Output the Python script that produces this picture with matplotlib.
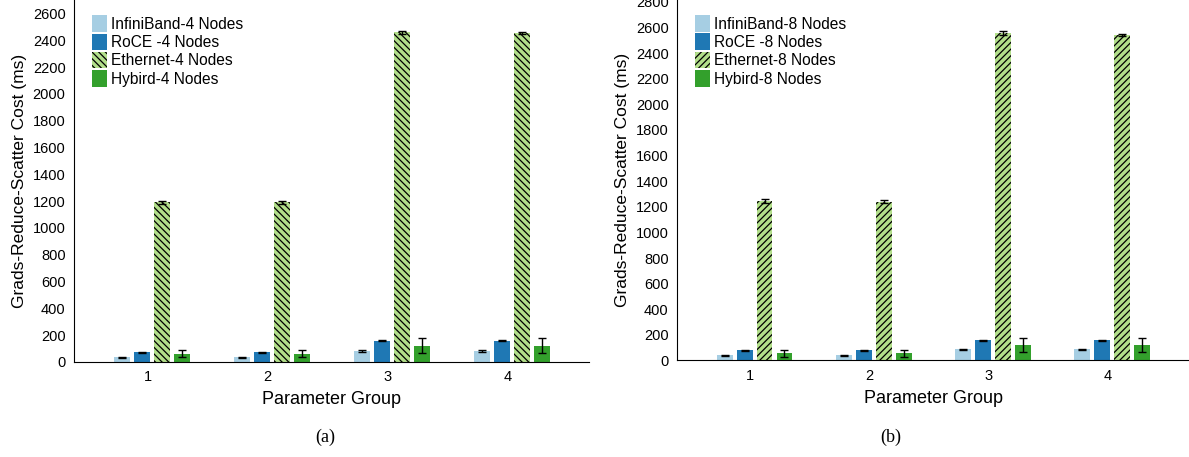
#!/usr/bin/env python3

import numpy as np
import matplotlib.pyplot as plt

plt.rcParams['font.family'] = ['Liberation Sans', 'DejaVu Sans']
plt.rcParams['hatch.linewidth'] = 0.9

groups = [1, 2, 3, 4]
colors = ['#a6cee3', '#1f78b4', '#b2df8a', '#33a02c']

# (a) 4 nodes
ib4 = [35, 35, 82, 82]
roce4 = [72, 72, 157, 157]
eth4 = [1190, 1190, 2460, 2455]
hyb4 = [60, 60, 120, 120]
ib4_err = [4, 4, 4, 4]
roce4_err = [4, 4, 4, 4]
eth4_err = [8, 8, 10, 10]
hyb4_err = [26, 26, 56, 56]

# (b) 8 nodes
ib8 = [41, 41, 88, 88]
roce8 = [80, 80, 159, 159]
eth8 = [1245, 1240, 2555, 2540]
hyb8 = [57, 57, 120, 120]
ib8_err = [4, 4, 4, 4]
roce8_err = [4, 4, 4, 4]
eth8_err = [15, 10, 15, 10]
hyb8_err = [27, 27, 56, 56]

labels4 = ['InfiniBand-4 Nodes', 'RoCE -4 Nodes', 'Ethernet-4 Nodes', 'Hybird-4 Nodes']
labels8 = ['InfiniBand-8 Nodes', 'RoCE -8 Nodes', 'Ethernet-8 Nodes', 'Hybird-8 Nodes']

offsets = [-0.214, -0.047, 0.12, 0.287]
width = 0.133


def draw(ax, data, errs, labels, hatch, ymax, yticks):
    x = np.array(groups)
    for i in range(4):
        ax.bar(x + offsets[i], data[i], width, color=colors[i], label=labels[i],
               yerr=errs[i], capsize=3, error_kw=dict(elinewidth=1, capthick=1, ecolor='black'),
               hatch=hatch if i == 2 else None, edgecolor='black' if i == 2 else colors[i],
               linewidth=0)
    ax.set_xlim(0.386, 4.68)
    ax.set_ylim(0, ymax)
    ax.set_yticks(yticks)
    ax.set_xticks(groups)
    ax.tick_params(length=0, labelsize=10.5, pad=6)
    ax.spines['top'].set_visible(False)
    ax.spines['right'].set_visible(False)
    ax.set_xlabel('Parameter Group', fontsize=13, labelpad=5)
    ax.set_ylabel('Grads-Reduce-Scatter Cost (ms)', fontsize=12.5, labelpad=4)
    ax.legend(loc='upper left', bbox_to_anchor=(0.022, 0.975), frameon=False, fontsize=11.2,
              handlelength=1.0, handleheight=1.25, handletextpad=0.25, labelspacing=0.12,
              borderaxespad=0)


fig = plt.figure(figsize=(11.89, 4.57), dpi=100)
ax1 = fig.add_axes([0.0622, 0.2079, 0.4331, 0.7921])
ax2 = fig.add_axes([0.5694, 0.2112, 0.4306, 0.789])

draw(ax1, [ib4, roce4, eth4, hyb4], [ib4_err, roce4_err, eth4_err, hyb4_err], labels4,
     '\\\\\\\\\\', 2700, np.arange(0, 2601, 200))
draw(ax2, [ib8, roce8, eth8, hyb8], [ib8_err, roce8_err, eth8_err, hyb8_err], labels8,
     '/////', 2815, np.arange(0, 2801, 200))

fig.text(0.2735, 0.042, '(a)', ha='center', va='center', fontsize=13, family='Liberation Serif')
fig.text(0.749, 0.042, '(b)', ha='center', va='center', fontsize=13, family='Liberation Serif')

fig.savefig('out.png', dpi=100)
